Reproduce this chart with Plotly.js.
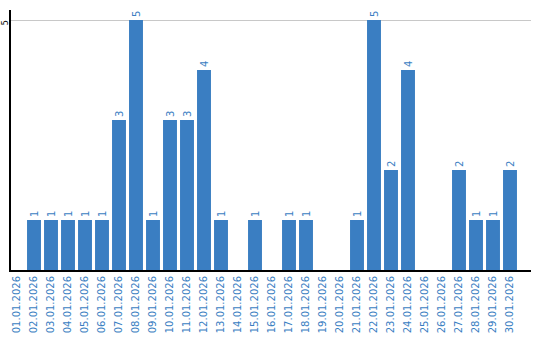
<!DOCTYPE html>
<html><head><meta charset="utf-8">
<script src="https://cdn.plot.ly/plotly-3.0.1.min.js"></script>
<style>html,body{margin:0;padding:0;background:#fff}#c{width:540px;height:340px}</style>
</head><body><div id="c"></div>
<script>
const dates = ["01.01.2026","02.01.2026","03.01.2026","04.01.2026","05.01.2026","06.01.2026","07.01.2026","08.01.2026","09.01.2026","10.01.2026","11.01.2026","12.01.2026","13.01.2026","14.01.2026","15.01.2026","16.01.2026","17.01.2026","18.01.2026","19.01.2026","20.01.2026","21.01.2026","22.01.2026","23.01.2026","24.01.2026","25.01.2026","26.01.2026","27.01.2026","28.01.2026","29.01.2026","30.01.2026"];
const counts = [0,1,1,1,1,1,3,5,1,3,3,4,1,0,1,0,1,1,0,0,1,5,2,4,0,0,2,1,1,2];
const yTicks = [5];
const barColor = "#3a7ec2";
const labels = counts.map(v => v > 0 ? String(v) : "");
Plotly.newPlot("c", [{
  type: "bar", x: dates, y: counts, text: labels,
  textposition: "outside", textangle: -90, cliponaxis: false,
  textfont: {family: "DejaVu Sans", size: 10, color: barColor},
  marker: {color: barColor}, hoverinfo: "none"
}], {
  width: 540, height: 340,
  margin: {l: 11, r: 9, t: 10, b: 70, pad: 0},
  paper_bgcolor: "#fff", plot_bgcolor: "#fff",
  bargap: 0.18, showlegend: false,
  font: {family: "DejaVu Sans", size: 10},
  xaxis: {type: "category", range: [-0.353, 30.235], tickangle: -90,
    tickfont: {family: "DejaVu Sans", size: 10, color: barColor},
    showline: true, linecolor: "#000", linewidth: 2, ticks: "", showgrid: false, zeroline: false, automargin: false},
  yaxis: {range: [0, 5.2], tickvals: yTicks, ticktext: yTicks.map(String), tickangle: -90,
    tickfont: {family: "DejaVu Sans", size: 8, color: "#000"}, ticklabelstandoff: -2, ticklabelshift: 4,
    showline: true, linecolor: "#000", linewidth: 2, ticks: "", ticklen: 0,
    showgrid: true, gridcolor: "#c8c8c8", gridwidth: 1, zeroline: false, automargin: false}
}, {staticPlot: true, displayModeBar: false});
</script></body></html>
